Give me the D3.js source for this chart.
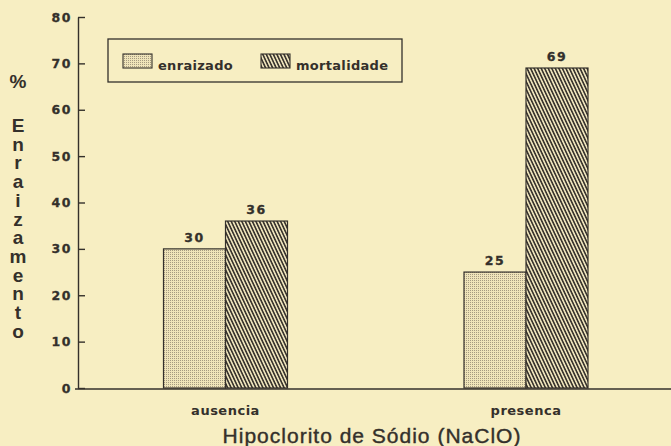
<!DOCTYPE html>
<html><head><meta charset="utf-8">
<script src="https://cdn.jsdelivr.net/npm/d3@7"></script>
<style>
html,body{margin:0;padding:0;background:#f7eec2;}
svg{display:block;}
</style></head>
<body>
<svg id="c" width="671" height="446"></svg>
<script>
const categories = ["ausencia", "presenca"];
const series = ["enraizado", "mortalidade"];
const enraizado = [30, 25];
const mortalidade = [36, 69];
const yTicks = [0, 10, 20, 30, 40, 50, 60, 70, 80];
const yLabel = ["%", "E","n","r","a","i","z","a","m","e","n","t","o"];
const xTitle = "Hipoclorito de Sódio (NaClO)";

const ink = "#34302b";
const svg = d3.select("#c");
svg.append("rect").attr("width",671).attr("height",446).attr("fill","#f7eec2");

const defs = svg.append("defs");
const dots = defs.append("pattern").attr("id","dots").attr("patternUnits","userSpaceOnUse")
  .attr("width",2).attr("height",2);
dots.append("rect").attr("width",2).attr("height",2).attr("fill","#efe4b9");
dots.append("rect").attr("width",1).attr("height",1).attr("fill","#a59a80");
const hatch = defs.append("pattern").attr("id","hatch").attr("patternUnits","userSpaceOnUse")
  .attr("width",3.2).attr("height",10).attr("patternTransform","rotate(-25)");
hatch.append("rect").attr("width",3.2).attr("height",10).attr("fill","#ede3bb");
hatch.append("rect").attr("width",1.6).attr("height",10).attr("fill","#3a352f");
const fills = {enraizado:"url(#dots)", mortalidade:"url(#hatch)"};

const axisX = 78, base = 388;
const y = d3.scaleLinear().domain([0,80]).range([base,17]);
const xc = d3.scalePoint().domain(categories).range([225.5,526]);
const xs = d3.scaleBand().domain(series).range([-62,62]).padding(0);

const rows = categories.map((c,i)=>({cat:c, vals:[{s:"enraizado",v:enraizado[i]},{s:"mortalidade",v:mortalidade[i]}]}));

// bars
const g = svg.append("g");
rows.forEach(r=>{
  r.vals.forEach(d=>{
    const x0 = xc(r.cat)+xs(d.s);
    g.append("rect").attr("x",x0).attr("y",y(d.v)).attr("width",xs.bandwidth())
      .attr("height",base-y(d.v)).attr("fill",fills[d.s]).attr("stroke",ink).attr("stroke-width",1.2);
    g.append("text").attr("x",x0+xs.bandwidth()/2).attr("y",y(d.v)-7)
      .attr("text-anchor","middle").attr("font-family","DejaVu Sans").attr("font-weight","bold")
      .attr("font-size",12.5).attr("letter-spacing",1.5).attr("fill",ink)
      .attr("stroke",ink).attr("stroke-width",0.3).text(d.v);
  });
  g.append("text").attr("x",xc(r.cat)).attr("y",415).attr("text-anchor","middle")
    .attr("font-family","DejaVu Sans").attr("font-weight","bold").attr("font-size",13)
    .attr("letter-spacing",0.5).attr("fill",ink).text(r.cat);
});

// y axis
const ya = svg.append("g").attr("transform",`translate(${axisX},0)`)
  .call(d3.axisLeft(y).tickValues(yTicks).tickSize(-7).tickSizeOuter(0).tickPadding(6));
ya.select(".domain").attr("stroke",ink).attr("stroke-width",1.4);
ya.selectAll(".tick line").attr("stroke",ink).attr("stroke-width",1.4);
ya.selectAll(".tick text").attr("font-family","DejaVu Sans").attr("font-weight","bold")
  .attr("font-size",12.5).attr("letter-spacing",1.5).attr("fill",ink)
  .attr("stroke",ink).attr("stroke-width",0.3);
// x baseline
svg.append("line").attr("x1",axisX-3).attr("x2",671).attr("y1",base+1).attr("y2",base+1)
  .attr("stroke",ink).attr("stroke-width",1.4);

// y label stacked
svg.append("text").attr("x",18).attr("y",88).attr("text-anchor","middle")
  .attr("font-family","Liberation Sans").attr("font-weight","bold").attr("font-size",19)
  .attr("fill",ink).text(yLabel[0]);
yLabel.slice(1).forEach((ch,i)=>{
  svg.append("text").attr("x",18).attr("y",132+i*18.7).attr("text-anchor","middle")
    .attr("font-family","Liberation Sans").attr("font-weight","bold").attr("font-size",19)
    .attr("fill",ink).text(ch);
});

// x title
svg.append("text").attr("x",372).attr("y",443).attr("text-anchor","middle")
  .attr("font-family","Liberation Sans").attr("font-size",21).attr("letter-spacing",1)
  .attr("fill",ink).attr("stroke",ink).attr("stroke-width",0.4).text(xTitle);

// legend
const lg = svg.append("g");
lg.append("rect").attr("x",108).attr("y",39).attr("width",294).attr("height",43)
  .attr("fill","none").attr("stroke",ink).attr("stroke-width",1.3);
const legX = {enraizado:123, mortalidade:261};
series.forEach(s=>{
  lg.append("rect").attr("x",legX[s]).attr("y",54).attr("width",29).attr("height",14)
    .attr("fill",fills[s]).attr("stroke",ink).attr("stroke-width",1.1);
  lg.append("text").attr("x",legX[s]+35).attr("y",70).attr("font-family","DejaVu Sans")
    .attr("font-weight","bold").attr("font-size",13).attr("letter-spacing",0.3)
    .attr("fill",ink).text(s);
});
</script>
</body></html>
